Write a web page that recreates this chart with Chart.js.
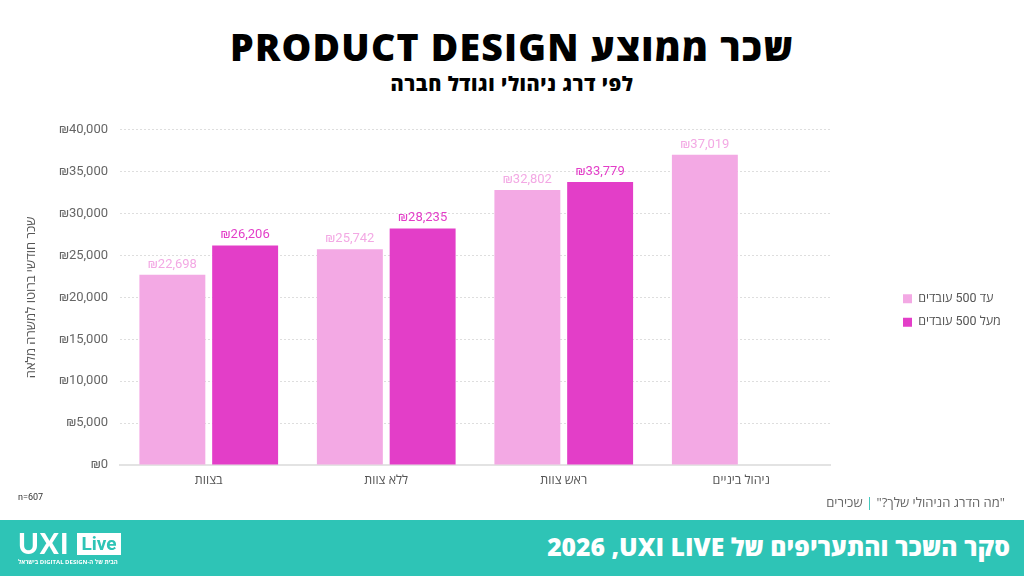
<!DOCTYPE html>
<html lang="he" dir="rtl">
<head>
<meta charset="utf-8">
<script src="https://cdn.jsdelivr.net/npm/chart.js@4.4.1/dist/chart.umd.min.js"></script>
<style>
html,body{margin:0;padding:0;background:#fff;}
body{width:1024px;height:576px;position:relative;overflow:hidden;font-family:'Open Sans','Noto Sans',sans-serif;}
#title{position:absolute;top:21px;left:0;width:1024px;text-align:center;font-weight:800;font-size:37.5px;line-height:52px;color:#000;letter-spacing:1.2px;}
#subtitle{position:absolute;top:70px;left:0;width:1024px;text-align:center;font-weight:800;font-size:20px;line-height:28px;color:#000;letter-spacing:0.6px;}
#chartwrap{position:absolute;left:0;top:110px;width:1024px;height:400px;}
canvas{direction:rtl;}
#n{position:absolute;left:18px;top:492px;font-size:9px;color:#333;direction:ltr;font-family:Roboto,'Open Sans',sans-serif;}
#source{position:absolute;right:19px;top:493px;font-size:13px;color:#666;white-space:nowrap;}
#source .bar{color:#2EC4B6;}
#footer{position:absolute;left:0;top:520px;width:1024px;height:56px;background:#2EC4B6;}
#ftitle{position:absolute;right:14px;top:10px;color:#fff;font-weight:800;font-size:24.7px;line-height:34px;white-space:nowrap;}
#logo{position:absolute;left:18px;top:13px;direction:ltr;width:110px;height:40px;}
#logo .uxi{position:absolute;left:0;top:-5px;font-family:'Lato','Open Sans',sans-serif;font-weight:900;font-size:28px;line-height:30px;color:#fff;letter-spacing:1px;}
#logo .live{position:absolute;left:59px;top:0px;width:44px;height:22px;background:#fff;color:#2EC4B6;font-family:'Roboto','Open Sans',sans-serif;font-weight:700;font-size:19px;line-height:22px;text-align:center;}
#logo .tag{position:absolute;left:0;top:25px;width:104px;font-size:6px;line-height:8px;color:#fff;direction:rtl;text-align:left;white-space:nowrap;font-weight:700;}
</style>
</head>
<body>
<div id="title">שכר ממוצע PRODUCT DESIGN</div>
<div id="subtitle">לפי דרג ניהולי וגודל חברה</div>
<div id="chartwrap"><canvas id="c"></canvas></div>
<div id="n">n=607</div>
<div id="source">"מה הדרג הניהולי שלך?" <span class="bar">|</span> שכירים</div>
<div id="footer">
  <div id="logo"><div class="uxi">UXI</div><div class="live">Live</div><div class="tag">הבית של ה-DIGITAL DESIGN בישראל</div></div>
  <div id="ftitle">סקר השכר והתעריפים של UXI LIVE&rlm;, 2026</div>
</div>
<script>
// ---- data ----
const categories = ['בצוות', 'ללא צוות', 'ראש צוות', 'ניהול ביניים'];
const seriesNames = ['עד 500 עובדים', 'מעל 500 עובדים'];
const upTo500 = [22698, 25742, 32802, 37019];
const over500 = [26206, 28235, 33779, null];
const yMin = 0, yMax = 40000, yStep = 5000;
const yTitle = 'שכר חודשי ברוטו למשרה מלאה';

const lightPink = '#F3A9E4';
const magenta = '#E33EC8';
const fmt = v => '₪' + Number(v).toLocaleString('en-US');
const FONT = "Roboto, 'Open Sans', 'Noto Sans', sans-serif";

const valueLabels = {
  id: 'valueLabels',
  afterDatasetsDraw(chart) {
    const ctx = chart.ctx;
    chart.data.datasets.forEach((ds, i) => {
      const meta = chart.getDatasetMeta(i);
      meta.data.forEach((bar, j) => {
        const v = ds.data[j];
        if (v == null) return;
        ctx.save();
        ctx.fillStyle = ds.backgroundColor;
        ctx.font = '13px ' + FONT;
        ctx.textAlign = 'center';
        ctx.textBaseline = 'bottom';
        ctx.fillText(fmt(v), bar.x, bar.y - 4);
        ctx.restore();
      });
    });
  }
};

const LEGEND_WIDTH = 194;
const LEGEND_SHIFT = 62;
const legendPlace = {
  id: 'legendPlace',
  beforeInit(chart) {
    const lg = chart.legend;
    if (lg && !lg._patched) {
      const orig = lg.fit;
      lg.fit = function () { orig.call(this); this.width = LEGEND_WIDTH; };
      lg._patched = true;
    }
  },
  afterLayout(chart) {
    if (chart.legend) {
      chart.legend.left = chart.chartArea.right + LEGEND_SHIFT;
      chart.legend.top -= 2;
      chart.legend.bottom -= 2;
    }
  }
};

new Chart(document.getElementById('c'), {
  type: 'bar',
  data: {
    labels: categories,
    datasets: [
      { label: seriesNames[0], data: upTo500, backgroundColor: lightPink },
      { label: seriesNames[1], data: over500, backgroundColor: magenta }
    ]
  },
  options: {
    responsive: true,
    maintainAspectRatio: false,
    animation: false,
    categoryPercentage: 0.82,
    barPercentage: 0.906,
    layout: { padding: { left: 20, top: 19, bottom: 14, right: 0 } },
    plugins: {
      tooltip: { enabled: false },
      legend: {
        position: 'right',
        align: 'center',
        textDirection: 'rtl',
        labels: { boxWidth: 9, boxHeight: 9, padding: 11, color: '#555', font: { size: 12.5, family: FONT } }
      }
    },
    scales: {
      x: {
        grid: { display: false, drawTicks: false },
        border: { display: true, color: '#e3e3e3', width: 2 },
        ticks: { color: '#555', font: { size: 12.5, family: FONT }, padding: 8 }
      },
      y: {
        min: yMin, max: yMax,
        afterFit(s) { s.width = 100; },
        ticks: { stepSize: yStep, callback: v => fmt(v), color: '#666', font: { size: 13, family: FONT }, padding: 12 },
        grid: { color: '#dedede', drawTicks: false, lineWidth: 1 },
        border: { display: false, dash: [2, 2] },
        title: { display: true, text: yTitle, color: '#555', font: { size: 13, family: FONT } }
      }
    }
  },
  plugins: [valueLabels, legendPlace]
});
</script>
</body>
</html>
